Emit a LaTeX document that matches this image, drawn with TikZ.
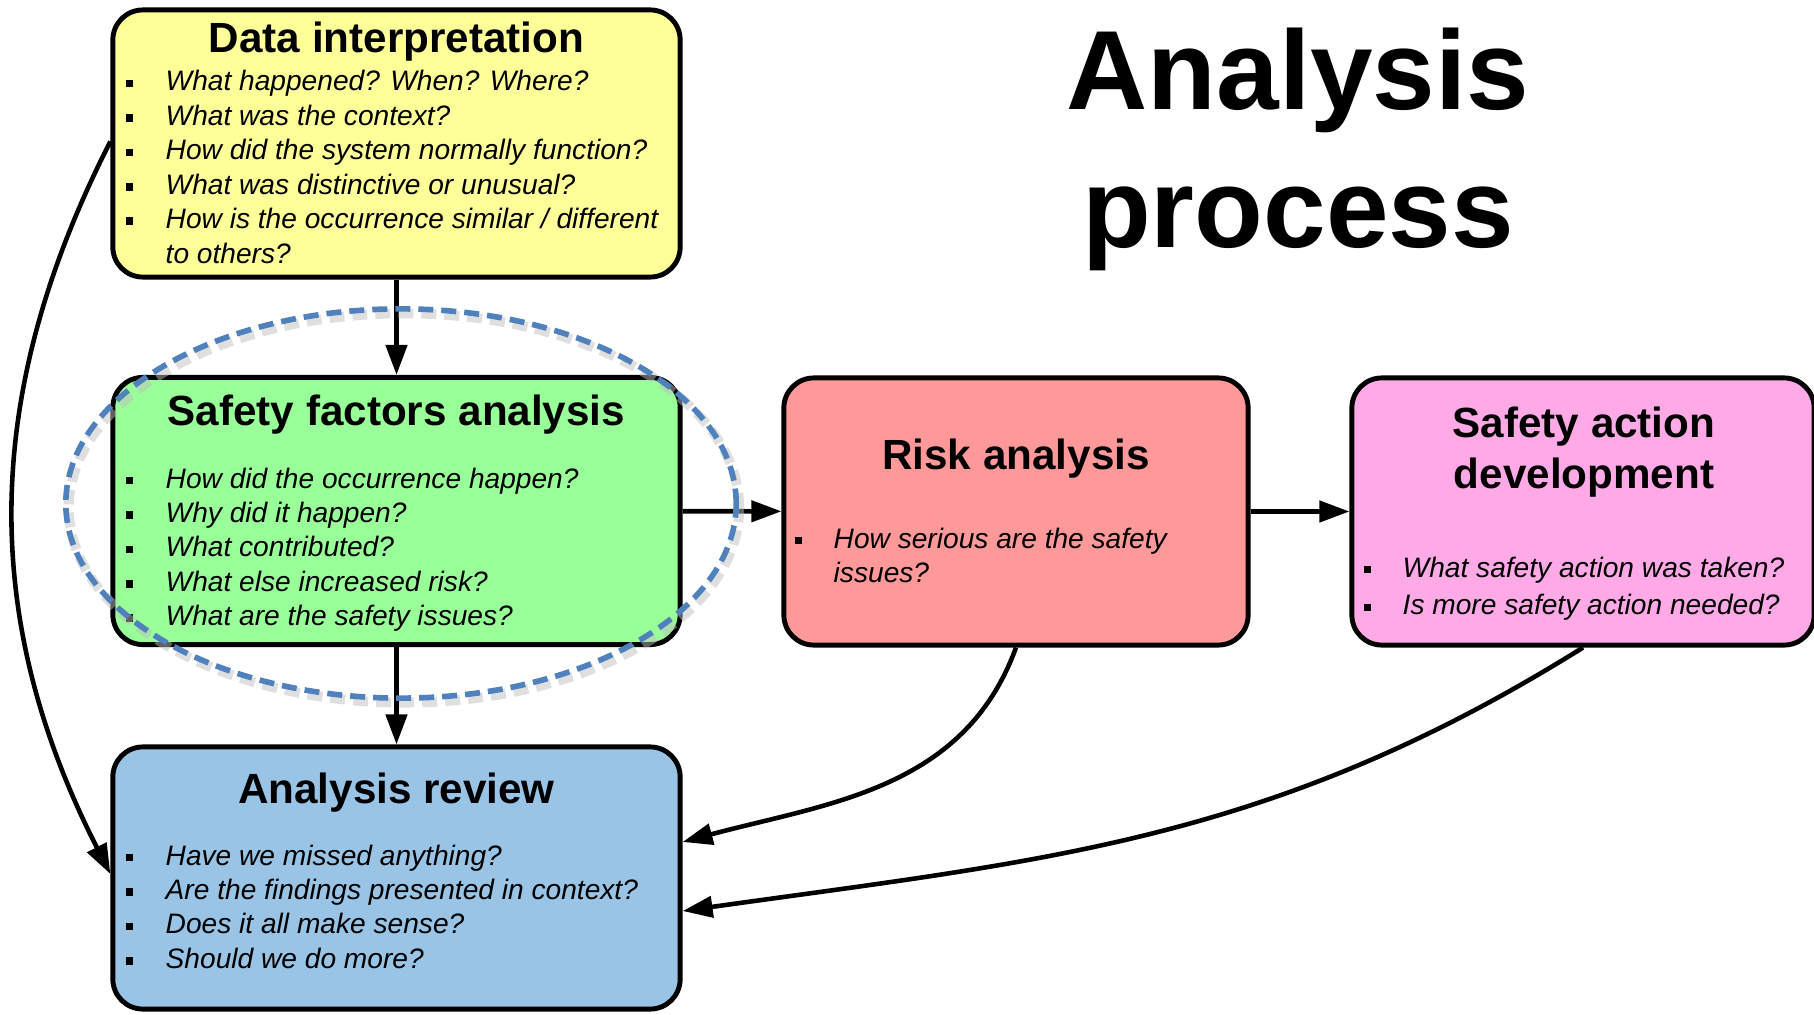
\documentclass[tikz,border=0pt]{standalone}
\usepackage{fontspec}
\setmainfont{Liberation Sans}
\usetikzlibrary{arrows.meta,shapes.geometric}
\definecolor{datyellow}{RGB}{255,255,153}
\definecolor{sfagreen}{RGB}{153,255,153}
\definecolor{riskred}{RGB}{255,153,153}
\definecolor{actpink}{RGB}{255,170,230}
\definecolor{revblue}{RGB}{153,196,230}
\definecolor{ringblue}{RGB}{79,129,189}
\newcommand{\sqbul}{\raisebox{1.1pt}{\rule{0.075cm}{0.075cm}}}

\begin{document}
\begin{tikzpicture}[x=0.01cm, y=0.01cm]
\tikzstyle{box}=[rectangle, rounded corners=0.3cm, draw=black, line width=1.4pt, minimum width=5.67cm, minimum height=2.67cm, inner sep=0pt]
\tikzstyle{narrow}=[box, minimum width=4.64cm]
\tikzstyle{head}=[inner sep=0pt, align=center, font=\fontsize{12}{14.5}\selectfont\bfseries]
\tikzstyle{quest}=[inner sep=0pt, anchor=base west, font=\fontsize{8}{9.8}\selectfont\itshape]
\tikzstyle{title}=[inner sep=0pt, anchor=base, font=\fontsize{32}{38}\selectfont\bfseries]
\tikzstyle{connect}=[-{Triangle[length=0.3cm, width=0.21cm]}, line width=1.3pt]
\tikzstyle{ring}=[ellipse, line width=1.6pt, dash pattern=on 0.15cm off 0.08cm, minimum width=6.7cm, minimum height=3.89cm]

  \useasboundingbox (0,0) rectangle (1814,1014);

  % boxes
  \node[box, fill=datyellow]  (datbox)  at (396.5,870.5) {};
  \node[box, fill=sfagreen]   (sfabox)  at (396.5,503)   {};
  \node[box, fill=revblue, minimum height=2.62cm] (revbox) at (396.5,136) {};
  \node[narrow, fill=riskred] (riskbox) at (1016,502.5)  {};
  \node[narrow, fill=actpink, minimum width=4.62cm] (actbox) at (1583,502.5) {};

  % title
  \node[title] (ttlone) at (1298,905) {Analysis};
  \node[title] (ttltwo) at (1298,767) {process};

  % headings
  \node[head, anchor=base] (dathead)  at (396.5,961) {Data interpretation};
  \node[head, anchor=base] (sfahead)  at (396.5,589) {Safety factors analysis};
  \node[head, anchor=base] (revhead)  at (396.5,211) {Analysis review};
  \node[head, anchor=base] (riskhead) at (1016,545)  {Risk analysis};
  \node[head] (acthead) at (1584,562) {Safety action\\development};

  % questions
  \node[quest] (datq) at (125,923) {\begin{tabular}[t]{@{}p{0.40cm}@{}l@{}}
    \sqbul & What happened? When? Where?\\
    \sqbul & What was the context?\\
    \sqbul & How did the system normally function?\\
    \sqbul & What was distinctive or unusual?\\
    \sqbul & How is the occurrence similar / different\\
           & to others?
  \end{tabular}};
  \node[quest] (sfaq) at (125,526) {\begin{tabular}[t]{@{}p{0.40cm}@{}l@{}}
    \sqbul & How did the occurrence happen?\\
    \sqbul & Why did it happen?\\
    \sqbul & What contributed?\\
    \sqbul & What else increased risk?\\
    \sqbul & What are the safety issues?
  \end{tabular}};
  \node[quest] (revq) at (125,149) {\begin{tabular}[t]{@{}p{0.40cm}@{}l@{}}
    \sqbul & Have we missed anything?\\
    \sqbul & Are the findings presented in context?\\
    \sqbul & Does it all make sense?\\
    \sqbul & Should we do more?
  \end{tabular}};
  \node[quest] (riskq) at (794,466) {\begin{tabular}[t]{@{}p{0.39cm}@{}l@{}}
    \sqbul & How serious are the safety\\
           & issues?
  \end{tabular}};
  \node[quest, font=\fontsize{8}{10.8}\selectfont\itshape] (actq) at (1363,437) {\begin{tabular}[t]{@{}p{0.39cm}@{}l@{}}
    \sqbul & What safety action was taken?\\
    \sqbul & Is more safety action needed?
  \end{tabular}};

  % connectors
  \path (datbox) edge [connect] (sfabox);
  \path (sfabox) edge [connect] (revbox);
  \path (sfabox) edge [connect] (riskbox);
  \path (riskbox) edge [connect] (actbox);
  \path ([yshift=0.02cm]datbox.west) edge [connect, out=243, in=117] ([yshift=0.04cm]revbox.west);
  \path (riskbox.south) edge [connect, out=250, in=15] ([yshift=0.36cm]revbox.east);
  \path (actbox.south) edge [connect, out=212, in=8] ([yshift=-0.33cm]revbox.east);

  % dashed ring round the safety factors
  \node[ring, draw=black!25, opacity=0.5, line width=2.8pt] (ringshade) at (404,506) {};
  \node[ring, draw=ringblue] (ring) at (401,510.5) {};

\end{tikzpicture}
\end{document}
